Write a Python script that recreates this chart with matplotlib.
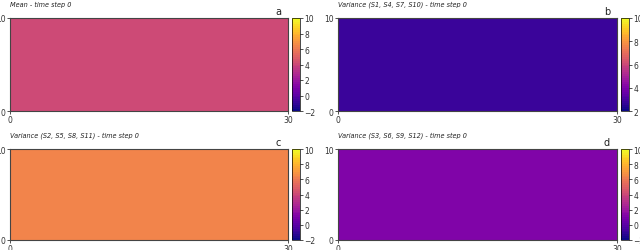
import numpy as np
import matplotlib
matplotlib.use("Agg")
from matplotlib import pyplot as plt

# grid and field levels (uniform fields at time step 0)
nx, ny = 30, 10
titles = ["Mean - time step 0",
          "Variance (S1, S4, S7, S10) - time step 0",
          "Variance (S2, S5, S8, S11) - time step 0",
          "Variance (S3, S6, S9, S12) - time step 0"]
letters = ["a", "b", "c", "d"]
field_values = [4.0, 2.7, 6.4, 1.0]
vmins = [-2, 2, -2, -2]
vmaxs = [10, 10, 10, 10]

W, H = 640, 251
fig = plt.figure(figsize=(6.4, 2.51), dpi=100)
cmap = plt.get_cmap("plasma", 48)

# pixel boxes: (left, top, right, bottom) of each map
boxes = [(10, 19, 288, 112), (338, 19, 617, 112),
         (10, 150, 288, 241), (338, 150, 617, 241)]

for i in range(4):
    l, t, r, b = boxes[i]
    ax = fig.add_axes([l / W, 1 - b / H, (r - l) / W, (b - t) / H])
    z = np.full((ny, nx), field_values[i])
    x = np.arange(nx + 1)
    y = np.arange(ny + 1)
    m = ax.pcolormesh(x, y, z, cmap=cmap, vmin=vmins[i], vmax=vmaxs[i])
    ax.set_xlim(0, nx)
    ax.set_ylim(0, ny)
    ax.set_xticks([0, nx])
    ax.set_yticks([0, ny])
    ax.tick_params(labelsize=5.5, length=2, width=0.6, pad=1, colors="#333333")
    for s in ax.spines.values():
        s.set_color("#444444")
        s.set_linewidth(0.8)
    ax.text(0.0, 1 + 14 / (b - t), titles[i], transform=ax.transAxes,
            fontsize=4.7, style="italic", color="#222222", va="center", ha="left")
    ax.text(1 - 10 / (r - l), 1 + 2 / (b - t), letters[i], transform=ax.transAxes,
            fontsize=7, color="#222222", va="bottom", ha="center")
    cax = fig.add_axes([(r + 4) / W, 1 - b / H, 8 / W, (b - t) / H])
    cb = fig.colorbar(m, cax=cax)
    cb.set_ticks(np.arange(vmins[i], vmaxs[i] + 1, 2))
    cb.ax.tick_params(labelsize=5.5, length=2, width=0.6, pad=1, colors="#333333")
    cb.outline.set_linewidth(0.5)

fig.savefig("out.png", dpi=100)
